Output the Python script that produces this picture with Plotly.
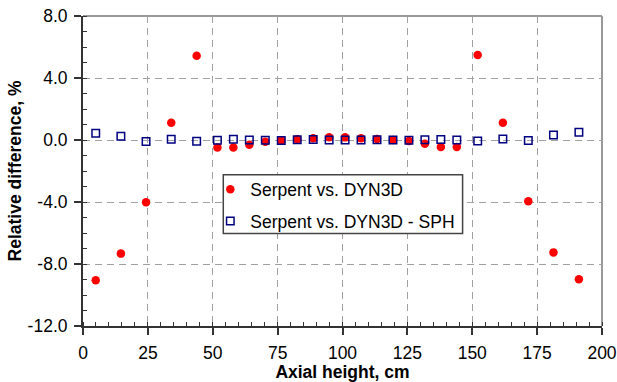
import plotly.graph_objects as go

# ---- data ----
axial_height = [4.9, 14.6, 24.3, 34.0, 43.8,
                51.8, 57.95, 64.1, 70.25, 76.4, 82.55, 88.7, 94.85,
                101.0, 107.15, 113.3, 119.45, 125.6, 131.75, 137.9, 144.05,
                152.1, 161.8, 171.6, 181.3, 191.1]

diff_dyn3d = [-9.05, -7.33, -4.02, 1.12, 5.44,
              -0.48, -0.48, -0.30, -0.12, -0.04, 0.05, 0.12, 0.18,
              0.17, 0.12, 0.07, 0.00, -0.06, -0.24, -0.45, -0.45,
              5.48, 1.12, -3.95, -7.25, -8.99]

diff_dyn3d_sph = [0.43, 0.24, -0.10, 0.05, -0.08,
                  -0.02, 0.05, 0.00, -0.02, -0.03, 0.02, 0.03, 0.00,
                  0.00, 0.00, 0.02, 0.00, -0.02, 0.02, 0.04, 0.00,
                  -0.06, 0.07, -0.03, 0.33, 0.50]

series_names = ["Serpent vs. DYN3D", "Serpent vs. DYN3D - SPH"]

x_tickvals = [0, 25, 50, 75, 100, 125, 150, 175, 200]
x_ticktext = ["0", "25", "50", "75", "100", "125", "150", "175", "200"]
y_tickvals = [8, 4, 0, -4, -8, -12]
y_ticktext = ["8.0", "4.0", "0.0", "-4.0", "-8.0", "-12.0"]

FONT = "Liberation Sans, Arial, sans-serif"
FS = 17.5
AXC = "#333333"
GRIDC = "#a0a0a0"

fig = go.Figure()
fig.add_trace(go.Scatter(
    x=axial_height, y=diff_dyn3d, mode="markers", name=series_names[0], legendgroup="a",
    marker=dict(symbol="circle", size=8.5, color="#ff0000", line=dict(width=0)),
))
fig.add_trace(go.Scatter(
    x=axial_height, y=diff_dyn3d_sph, mode="markers", name=series_names[1], legendgroup="b",
    marker=dict(symbol="square-open", size=7.5, color="#000080", line=dict(width=1.5, color="#000080")),
))

common = dict(showline=True, linecolor=AXC, linewidth=2, zeroline=False, automargin=False,
              showgrid=True, gridcolor=GRIDC, gridwidth=1, griddash="7px,5px",
              ticks="outside", ticklen=7, tickwidth=1.5, tickcolor=AXC,
              ticklabeloverflow="allow",
              tickfont=dict(family=FONT, size=FS, color="black"))

fig.update_layout(
    width=617, height=382,
    margin=dict(l=83, r=15, t=16, b=56),
    paper_bgcolor="white", plot_bgcolor="white",
    font=dict(family=FONT, size=FS, color="black"),
    xaxis=dict(range=[0, 200], tickmode="array", tickvals=x_tickvals, ticktext=x_ticktext,
               ticklabelstandoff=3,
               minor=dict(ticks="inside", ticklen=4, tickwidth=1.2, tickcolor=AXC, dtick=5, tick0=0, showgrid=False),
               title=dict(text="<b>Axial height, cm</b>", font=dict(family=FONT, size=FS), standoff=4),
               **common),
    yaxis=dict(range=[-12, 8], tickmode="array", tickvals=y_tickvals, ticktext=y_ticktext,
               ticklabelstandoff=3,
               minor=dict(ticks="inside", ticklen=4, tickwidth=1.2, tickcolor=AXC, dtick=1, tick0=0, showgrid=False),
               title=dict(text="<b>Relative difference, %</b>", font=dict(family=FONT, size=FS), standoff=1),
               **common),
    xaxis2=dict(overlaying="x", anchor="y", side="bottom", range=[0, 200], tickmode="array",
                tickvals=x_tickvals, ticks="inside", ticklen=5, tickwidth=1.5, tickcolor=AXC, automargin=False,
                showticklabels=False, showgrid=False, showline=False, zeroline=False),
    yaxis2=dict(overlaying="y", anchor="x", side="left", range=[-12, 8], tickmode="array", automargin=False,
                tickvals=y_tickvals, ticks="inside", ticklen=5, tickwidth=1.5, tickcolor=AXC,
                showticklabels=False, showgrid=False, showline=False, zeroline=False),
    legend=dict(x=0.2453, y=0.499, xanchor="left", yanchor="top",
                bgcolor="rgba(0,0,0,0)", borderwidth=0,
                itemwidth=30, tracegroupgap=6,
                font=dict(family=FONT, size=FS, color="black")),
    showlegend=True,
    shapes=[
        dict(type="line", xref="paper", yref="paper", x0=0, x1=1, y0=1, y1=1,
             line=dict(color="#999999", width=2), layer="below"),
        dict(type="line", xref="paper", yref="paper", x0=1, x1=1, y0=0, y1=1,
             line=dict(color="#999999", width=2), layer="below"),
        dict(type="rect", xref="paper", yref="paper", x0=0.2703, x1=0.7314, y0=0.298, y1=0.488,
             fillcolor="white", line=dict(color="#444444", width=1.5), layer="above"),
    ],
)

# remove the browser's default 8px body margin so the figure fills the window
fig.write_html("out.html", config={"displayModeBar": False},
               post_script="document.body.style.margin='0';document.body.style.overflow='hidden';")
